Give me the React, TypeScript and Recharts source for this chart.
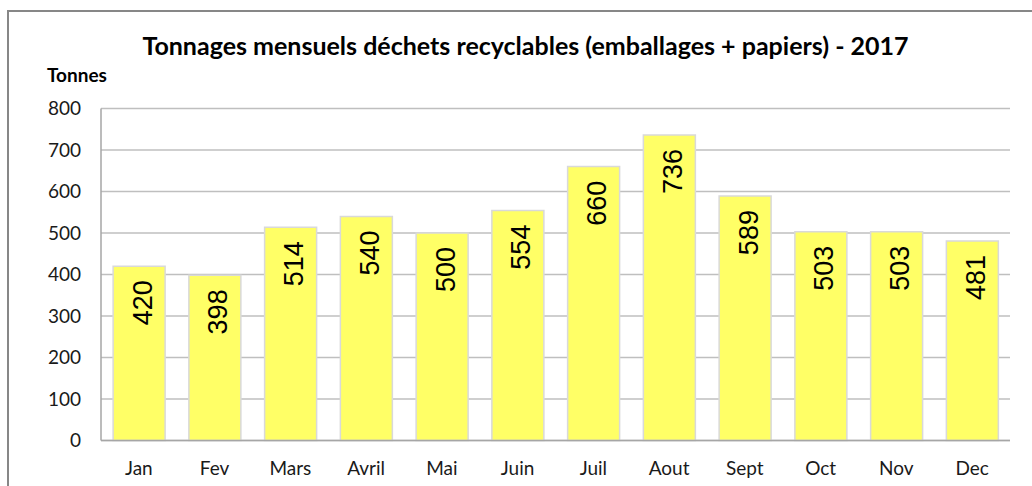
import React from "react";
import { BarChart, Bar, XAxis, YAxis, CartesianGrid, LabelList } from "recharts";

const months = ["Jan", "Fev", "Mars", "Avril", "Mai", "Juin", "Juil", "Aout", "Sept", "Oct", "Nov", "Dec"];
const tonnages = [420, 398, 514, 540, 500, 554, 660, 736, 589, 503, 503, 481];
const yTicks = [0, 100, 200, 300, 400, 500, 600, 700, 800];

const data = months.map((m, i) => ({ month: m, value: tonnages[i] }));

const FONT = "Lato, 'Open Sans', sans-serif";

const ValueLabel = (props: any) => {
  const { x, y, width, value } = props;
  const cx = x + width / 2 + 3 + 9.5;
  const top = y + 14;
  return (
    <text
      transform={`translate(${cx}, ${top}) rotate(-90)`}
      textAnchor="end"
      fontFamily="'Liberation Sans', Arial, sans-serif"
      fontSize={27}
      fill="#000"
    >
      {value}
    </text>
  );
};

export default function App() {
  return (
    <div style={{ position: "fixed", left: 0, top: 0, width: 1032, height: 486, overflow: "hidden", background: "#fff" }}>
      <div style={{ position: "absolute", left: 7, top: 10, width: 2000, height: 1000, borderLeft: "2px solid #878787", borderTop: "2px solid #878787" }} />
      <div style={{ position: "absolute", left: 0, top: 0 }}>
        <BarChart width={1032} height={486} data={data} margin={{ top: 108.5, right: 22, bottom: 15.5, left: 41 }} barCategoryGap="16%">
          <CartesianGrid vertical={false} stroke="#BFBFBF" strokeWidth={1.5} />
          <XAxis
            dataKey="month"
            height={30}
            tickLine={false}
            axisLine={{ stroke: "#A6A6A6", strokeWidth: 1.5 }}
            tick={{ fill: "#1a1a1a", fontSize: 19, fontFamily: FONT }}
            tickMargin={15}
          />
          <YAxis
            width={60}
            domain={[0, 800]}
            ticks={yTicks}
            tickLine={false}
            axisLine={{ stroke: "#A6A6A6", strokeWidth: 1.5 }}
            tick={{ fill: "#1a1a1a", fontSize: 19, fontFamily: FONT }}
            tickMargin={14}
          />
          <Bar dataKey="value" fill="#FFFF66" stroke="#D9D9D9" strokeWidth={1.5} isAnimationActive={false}>
            <LabelList dataKey="value" content={ValueLabel} />
          </Bar>
        </BarChart>
      </div>
      <div style={{ position: "absolute", left: 0, width: 1051, top: 30, textAlign: "center", fontFamily: FONT, fontWeight: 700, fontSize: 25, color: "#000", lineHeight: "30px", whiteSpace: "nowrap" }}>
        Tonnages mensuels déchets recyclables (emballages + papiers) - 2017
      </div>
      <div style={{ position: "absolute", left: 47, top: 64, fontFamily: FONT, fontWeight: 700, fontSize: 19, color: "#000", lineHeight: "22px" }}>
        Tonnes
      </div>
    </div>
  );
}
